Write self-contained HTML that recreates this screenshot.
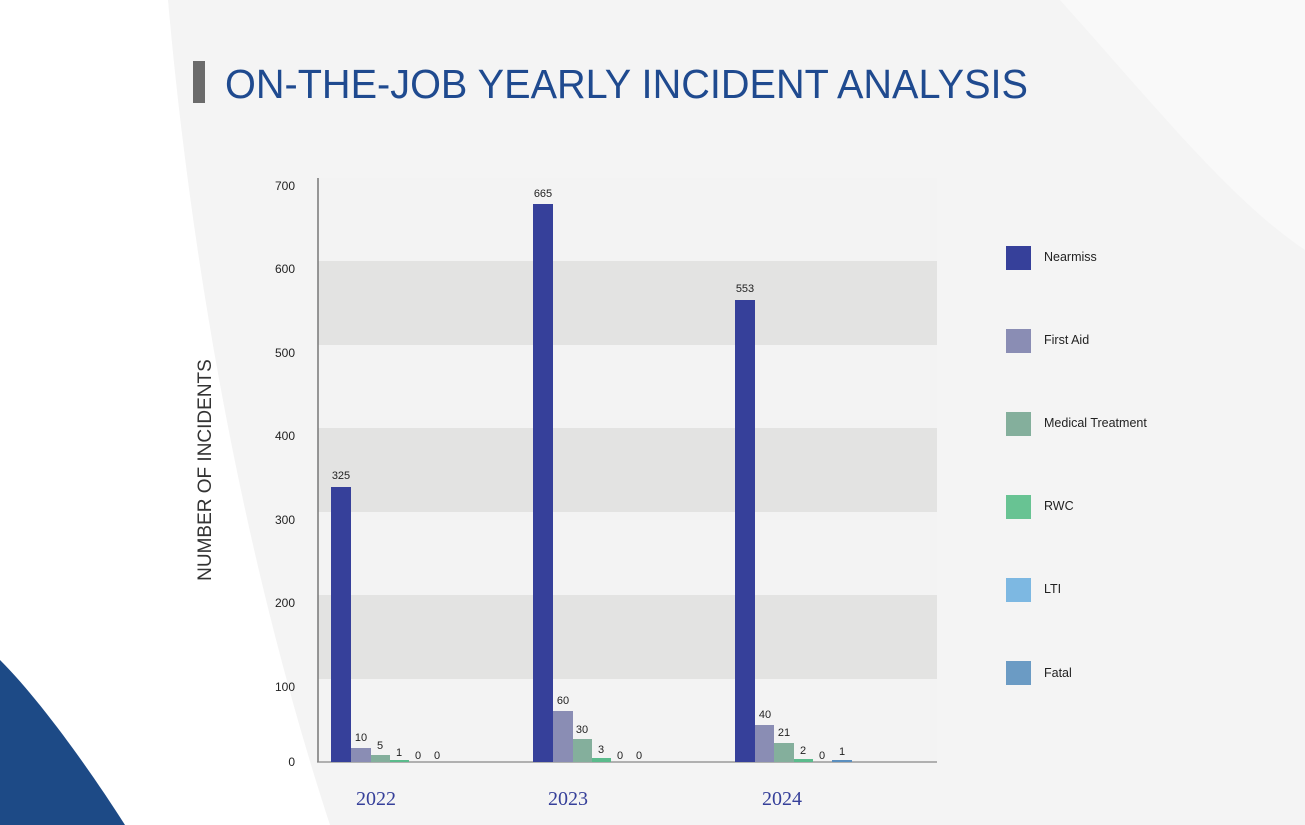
<!DOCTYPE html>
<html><head><style>
body{margin:0;width:1305px;height:825px;overflow:hidden;background:#fff;font-family:"Liberation Sans",sans-serif;position:relative}
</style></head><body>
<svg width="1305" height="825" style="position:absolute;left:0;top:0">
<rect width="1305" height="825" fill="#f4f4f4"/>
<path d="M0 0 L168 0 C190 250 240 550 330 825 L0 825 Z" fill="#ffffff"/>
<path d="M1060 0 C1150 100 1230 200 1305 250 L1305 0 Z" fill="#f9f9f9"/>
<path d="M0 825 L0 660 C40 700 90 770 125 825 Z" fill="#1d4a86"/>
<rect x="193" y="61" width="12" height="42" fill="#6b6b6b"/>
<text x="225" y="98" font-size="41" fill="#1f4a8f" font-family="Liberation Sans" textLength="803" lengthAdjust="spacingAndGlyphs">ON-THE-JOB YEARLY INCIDENT ANALYSIS</text>
<text transform="translate(211,470) rotate(-90)" text-anchor="middle" font-size="19" fill="#333">NUMBER OF INCIDENTS</text>
<rect x="318" y="178" width="619" height="584" fill="#f3f3f3"/>
<rect x="318" y="261" width="619" height="84" fill="#e3e3e2"/>
<rect x="318" y="428" width="619" height="84" fill="#e3e3e2"/>
<rect x="318" y="595" width="619" height="84" fill="#e3e3e2"/>
<line x1="318" y1="178" x2="318" y2="762" stroke="#777" stroke-width="1.5"/>
<line x1="317" y1="762" x2="937" y2="762" stroke="#888" stroke-width="1.2"/>
<g font-size="12" fill="#222" text-anchor="end">
<text x="295" y="190">700</text><text x="295" y="273">600</text><text x="295" y="357">500</text><text x="295" y="440">400</text><text x="295" y="524">300</text><text x="295" y="607">200</text><text x="295" y="691">100</text><text x="295" y="766">0</text>
</g>
<g>
<rect x="331" y="487" width="20" height="275" fill="#36409a"/>
<rect x="351" y="748" width="20" height="14" fill="#8a8db4"/>
<rect x="371" y="755" width="19" height="7" fill="#84af9c"/>
<rect x="390" y="760" width="19" height="2" fill="#5bbb8c"/>
<rect x="533" y="204" width="20" height="558" fill="#36409a"/>
<rect x="553" y="711" width="20" height="51" fill="#8a8db4"/>
<rect x="573" y="739" width="19" height="23" fill="#84af9c"/>
<rect x="592" y="758" width="19" height="4" fill="#5bbb8c"/>
<rect x="735" y="300" width="20" height="462" fill="#36409a"/>
<rect x="755" y="725" width="19" height="37" fill="#8a8db4"/>
<rect x="774" y="743" width="20" height="19" fill="#84af9c"/>
<rect x="794" y="759" width="19" height="3" fill="#5bbb8c"/>
<rect x="832" y="760" width="20" height="2" fill="#5b8fbf"/>
</g>
<g font-size="11" fill="#222" text-anchor="middle">
<text x="341" y="479">325</text><text x="361" y="741">10</text><text x="380" y="749">5</text><text x="399" y="756">1</text><text x="418" y="759">0</text><text x="437" y="759">0</text>
<text x="543" y="197">665</text><text x="563" y="704">60</text><text x="582" y="733">30</text><text x="601" y="753">3</text><text x="620" y="759">0</text><text x="639" y="759">0</text>
<text x="745" y="292">553</text><text x="765" y="718">40</text><text x="784" y="736">21</text><text x="803" y="754">2</text><text x="822" y="759">0</text><text x="842" y="755">1</text>
</g>
<g font-size="20" fill="#36409a" font-family="Liberation Serif" text-anchor="middle">
<text x="376" y="805">2022</text><text x="568" y="805">2023</text><text x="782" y="805">2024</text>
</g>
<g font-size="12.5" fill="#222">
<rect x="1006" y="246" width="25" height="24" fill="#36409a"/><text x="1044" y="261">Nearmiss</text>
<rect x="1006" y="329" width="25" height="24" fill="#8a8db4"/><text x="1044" y="344">First Aid</text>
<rect x="1006" y="412" width="25" height="24" fill="#84af9c"/><text x="1044" y="427">Medical Treatment</text>
<rect x="1006" y="495" width="25" height="24" fill="#68c393"/><text x="1044" y="510">RWC</text>
<rect x="1006" y="578" width="25" height="24" fill="#7db8e2"/><text x="1044" y="593">LTI</text>
<rect x="1006" y="661" width="25" height="24" fill="#6b9bc4"/><text x="1044" y="677">Fatal</text>
</g>
</svg>
</body></html>
